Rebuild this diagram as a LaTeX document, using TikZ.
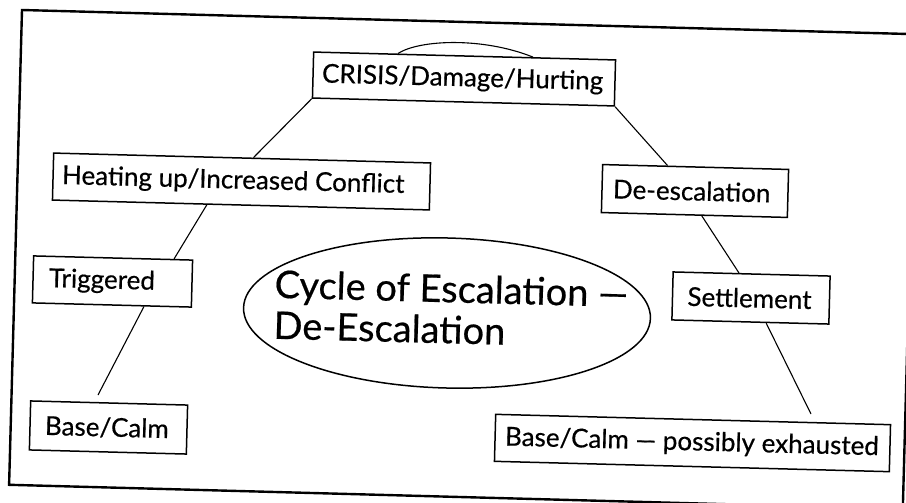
\documentclass[tikz,border=0pt]{standalone}
\usepackage{fontspec}
\setmainfont{Lato}[FakeBold=0.5]
\usetikzlibrary{shapes.geometric,calc}
\newcommand\boxtxt[2]{\makebox[#1][l]{#2}}
\begin{document}
\begin{tikzpicture}[x=1pt,y=-1pt,
  tilt/.style={rotate=-1.5},
  box/.style={draw, line width=1.5pt, tilt, inner ysep=0pt, font=\fontsize{26}{30}\selectfont},
  link/.style={line width=1.1pt}]
\useasboundingbox (0,0) rectangle (906,503);
\clip (0,0) rectangle (906,503);
% outer frame (scanned, slightly tilted)
\draw[line width=2.4pt] (22,10) -- (915.7,34.2) -- (902.8,509) -- (9.1,484.8) -- cycle;
% boxes
\node[box, inner xsep=9pt, minimum width=302pt, minimum height=46pt] (crisis) at (464,79) {\boxtxt{284pt}{CRISIS/Damage/Hurting}};
\node[box, inner xsep=9pt, minimum width=377pt, minimum height=47pt] (heat) at (241.5,181.5) {\boxtxt{359pt}{Heating up/Increased Conflict}};
\node[box, inner xsep=16pt, minimum width=159pt, minimum height=47pt] (trig) at (112.5,281.5) {\boxtxt{127pt}{Triggered}};
\node[box, inner xsep=15pt, minimum width=157pt, minimum height=49pt] (base1) at (108.5,427.5) {\boxtxt{127pt}{Base/Calm}};
\node[box, inner xsep=11pt, minimum width=186pt, minimum height=48pt] (deesc) at (695,191) {\boxtxt{164pt}{De-escalation}};
\node[box, inner xsep=15pt, minimum width=157pt, minimum height=48pt] (settle) at (751,298) {\boxtxt{127pt}{Settlement}};
\node[box, inner xsep=10pt, minimum width=395pt, minimum height=47pt] (base2) at (692.5,443) {\boxtxt{375pt}{Base/Calm --- possibly exhausted}};
% central ellipse
\node[draw, ellipse, tilt, line width=1.5pt, minimum width=407pt, minimum height=150pt, inner sep=0pt] (ell) at (447,313) {};
\node[tilt, align=left, inner sep=0pt, font=\fontsize{38}{41}\selectfont] (title) at ([xshift=4pt,yshift=4pt]ell.center) {Cycle of Escalation ---\\De-Escalation};
% free ends
\coordinate (e1) at (98,395);
\coordinate (e2) at (811,414);
% connectors
\draw[link] ($(crisis.north west)!0.28!(crisis.north east)$) .. controls +(22,-14) and +(-50,-20) .. ($(crisis.north west)!0.725!(crisis.north east)$);
\draw[link] (crisis.south west) -- ($(heat.north west)!0.53!(heat.north east)$);
\draw[link] ($(heat.south west)!0.41!(heat.south east)$) -- ($(trig.north west)!0.88!(trig.north east)$);
\draw[link] ($(trig.south west)!0.70!(trig.south east)$) -- (e1);
\draw[link] (crisis.south east) -- ($(deesc.north west)!0.35!(deesc.north east)$);
\draw[link] ($(deesc.south west)!0.54!(deesc.south east)$) -- ($(settle.north west)!0.42!(settle.north east)$);
\draw[link] ($(settle.south west)!0.60!(settle.south east)$) -- (e2);
\end{tikzpicture}
\end{document}
